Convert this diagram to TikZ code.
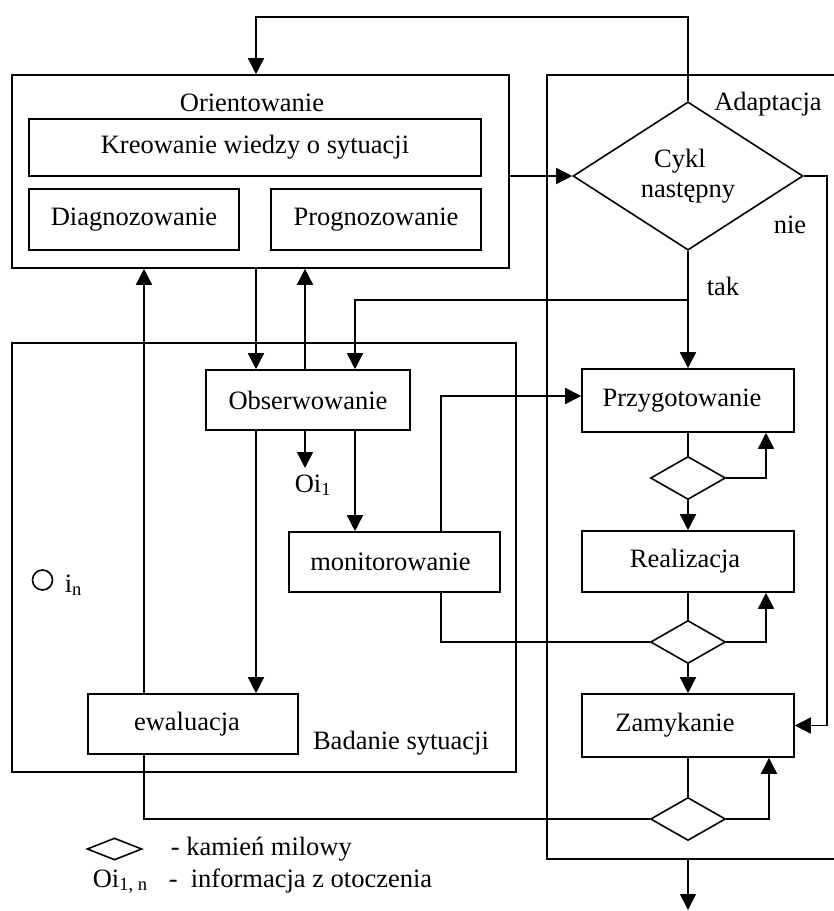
\documentclass[tikz,border=0pt]{standalone}
\usepackage{fontspec}
\setmainfont{Liberation Serif}
\usetikzlibrary{arrows.meta,shapes.geometric}
\begin{document}
\begin{tikzpicture}[x=1pt,y=-1pt,line width=1.6pt,
  every node/.style={font=\fontsize{26.5}{30}\selectfont},
  box/.style={draw,rectangle,inner sep=0pt},
  dia/.style={draw,diamond,inner sep=0pt,fill=white},
  lbl/.style={inner sep=0pt},
  arr/.style={-{Triangle[length=16pt,width=16pt]}}]
\useasboundingbox (0,0) rectangle (834,911);
% columns / rows
\coordinate (xa) at (256,0);
\coordinate (xb) at (305,0);
\coordinate (xc) at (355,0);
\coordinate (xe) at (144,0);
\coordinate (xm) at (441,0);
\coordinate (xr) at (766,0);
\coordinate (xz) at (769,0);
\coordinate (xn) at (827,0);
\coordinate (yt) at (0,17);
\coordinate (ytak) at (0,300);
\coordinate (ymon) at (0,396);
\coordinate (oi) at (305,468);
\coordinate (adbot) at (688,859);
\coordinate (out) at (688,910);
% containers
\node[box,minimum width=497pt,minimum height=193pt] (orient) at (260.5,171.5) {};
\node[box,minimum width=504pt,minimum height=429pt] (badanie) at (264,557.5) {};
\draw (834,75) -- (547,75) -- (547,859) -- (834,859);
% inner boxes
\node[box,minimum width=452pt,minimum height=57pt] (kreo) at (255,147.5) {Kreowanie wiedzy o sytuacji};
\node[box,minimum width=210pt,minimum height=61pt] (diag) at (134,219.5) {Diagnozowanie};
\node[box,minimum width=210pt,minimum height=61pt] (prog) at (376,219.5) {Prognozowanie};
\node[box,minimum width=204pt,minimum height=60pt] (obs) at (308,400) {Obserwowanie};
\node[box,minimum width=211pt,minimum height=60pt] (mon) at (394.5,562) {\kern-8pt monitorowanie};
\node[box,minimum width=210pt,minimum height=60pt] (ewal) at (193,724) {\kern-12pt ewaluacja};
\node[box,minimum width=212pt,minimum height=63pt] (przyg) at (688,400.5) {\kern-12pt Przygotowanie};
\node[box,minimum width=212pt,minimum height=61pt] (real) at (688,561.5) {\kern-6pt Realizacja};
\node[box,minimum width=212pt,minimum height=63pt] (zamk) at (688,725.5) {\kern-26pt Zamykanie};
% diamonds
\node[dia,minimum width=230pt,minimum height=146pt,align=center] (cykl) at (688,176) {\kern-16pt Cykl\\następny};
\node[dia,minimum width=75pt,minimum height=43pt] (d1) at (688,478) {};
\node[dia,minimum width=75pt,minimum height=43pt] (d2) at (688,642) {};
\node[dia,minimum width=75pt,minimum height=43pt] (d3) at (688,819) {};
% labels
\node[lbl,anchor=base] (tOrient) at (252,111) {Orientowanie};
\node[lbl,anchor=base] (tAdapt) at (768,110) {Adaptacja};
\node[lbl,anchor=base] (tNie) at (790,233) {nie};
\node[lbl,anchor=base] (tTak) at (723,295) {tak};
\node[lbl,anchor=base] (tBad) at (401,749) {Badanie sytuacji};
\node[lbl,anchor=base west] (tOi) at (294,492) {Oi\textsubscript{1}};
\node[draw,circle,minimum size=20pt,inner sep=0pt] (circ) at (42.5,580) {};
\node[lbl,anchor=base west] (tIn) at (64,592) {i\textsubscript{n}};
% connectors
\draw[arr] (cykl.north) -- (cykl.north |- yt) -| (orient.north -| xa);
\draw[arr] (orient.east |- cykl.west) -- (cykl.west);
\draw[arr] (cykl.east) -- (cykl.east -| xn) -- (xn |- zamk.east) -- (zamk.east);
\draw[arr] (cykl.south) -- (przyg.north);
\draw[arr] (cykl.south |- ytak) -| (obs.north -| xc);
\draw[arr] (orient.south -| xa) -- (obs.north -| xa);
\draw[arr] (obs.north -| xb) -- (orient.south -| xb);
\draw[arr] (ewal.north -| xe) -- (orient.south -| xe);
\draw[arr] (obs.south -| oi) -- (oi);
\draw[arr] (obs.south -| xc) -- (mon.north -| xc);
\draw[arr] (obs.south -| xa) -- (ewal.north -| xa);
\draw[arr] (mon.north -| xm) |- (przyg.west |- ymon);
\draw (przyg.south) -- (d1.north);
\draw[arr] (d1.east) -| (przyg.south -| xr);
\draw[arr] (d1.south) -- (real.north);
\draw (real.south) -- (d2.north);
\draw (mon.south -| xm) |- (d2.west);
\draw[arr] (d2.east) -| (real.south -| xr);
\draw[arr] (d2.south) -- (zamk.north);
\draw (zamk.south) -- (d3.north);
\draw[arr] (d3.east) -| (zamk.south -| xz);
\draw (ewal.south -| xe) |- (d3.west);
\draw[arr] (adbot) -- (out);
% legend
\node[dia,minimum width=55pt,minimum height=22pt] (legd) at (114.5,849) {};
\node[lbl,anchor=base west] (legt1) at (170,855) {- kamień milowy};
\node[lbl,anchor=base west] (legoi) at (92,887) {Oi\textsubscript{1, n}};
\node[lbl,anchor=base west] (legt2) at (168,887) {-\ \ informacja z otoczenia};
\end{tikzpicture}
\end{document}
